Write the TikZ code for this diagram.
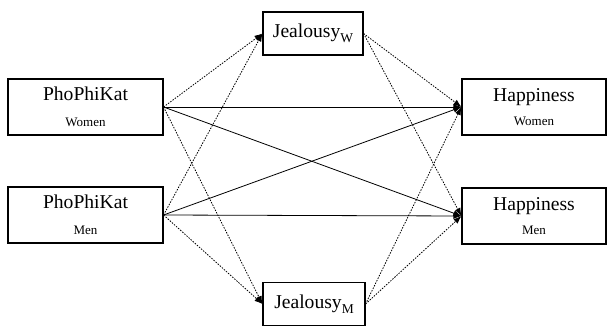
\documentclass[tikz,border=0pt]{standalone}
\usepackage{fontspec}
\setmainfont{Liberation Serif}
\usetikzlibrary{arrows.meta}
\newcommand{\bigf}{\fontsize{19.6}{22}\selectfont}
\newcommand{\smallf}{\fontsize{13}{15}\selectfont}
\tikzset{
  varbox/.style={draw, line width=1.1pt, align=center, inner sep=0pt, font=\bigf},
  solidarr/.style={line width=0.8pt, -{Latex[length=8pt,width=6pt]}},
  dasharr/.style={line width=0.8pt, dash pattern=on 1.5pt off 1.3pt, -{Latex[length=8pt,width=6pt]}}
}
\begin{document}
\begin{tikzpicture}[x=1pt,y=-1pt]
\useasboundingbox (0,0) rectangle (607,326);
\node[varbox, minimum width=155pt, minimum height=56pt] (pw) at (85.5,107) {PhoPhiKat\\[4pt]\smallf Women};
\node[varbox, minimum width=155pt, minimum height=56pt] (pm) at (85.5,215) {PhoPhiKat\\[4pt]\smallf Men};
\node[varbox, minimum width=100pt, minimum height=43pt] (jw) at (313,33.5) {Jealousy\raisebox{-4.5pt}{\fontsize{13.5}{14}\selectfont W}};
\node[varbox, minimum width=102pt, minimum height=43pt] (jm) at (314,304) {Jealousy\raisebox{-4.5pt}{\fontsize{13.5}{14}\selectfont M}};
\node[varbox, minimum width=144pt, minimum height=56pt] (hw) at (534,107) {Happiness\\[2pt]\smallf Women};
\node[varbox, minimum width=144pt, minimum height=56pt] (hm) at (534,216) {Happiness\\[2pt]\smallf Men};
% direct paths
\draw[solidarr] (pw.east) -- (hw.west);
\draw[solidarr] (pw.east) -- (hm.west);
\draw[solidarr] (pm.east) -- (hw.west);
\draw[solidarr] (pm.east) -- (hm.west);
% to mediators
\draw[dasharr] (pw.east) -- (jw.west);
\draw[dasharr] (pw.east) -- (jm.west);
\draw[dasharr] (pm.east) -- (jw.west);
\draw[dasharr] (pm.east) -- (jm.west);
% from mediators
\draw[dasharr] (jw.east) -- (hw.west);
\draw[dasharr] (jw.east) -- (hm.west);
\draw[dasharr] (jm.east) -- (hw.west);
\draw[dasharr] (jm.east) -- (hm.west);
\end{tikzpicture}
\end{document}
